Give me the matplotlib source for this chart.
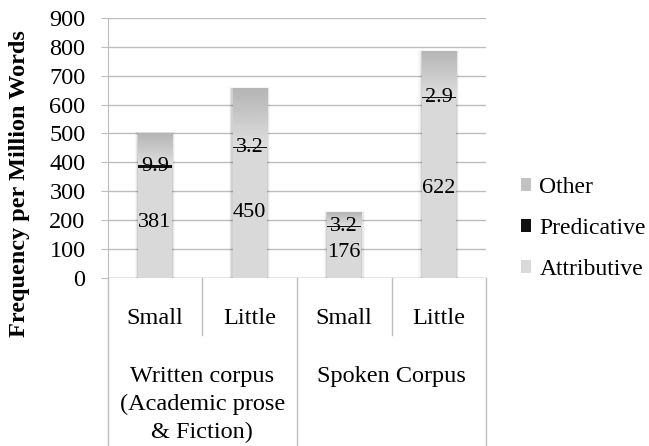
import numpy as np
import matplotlib
matplotlib.use('Agg')
import matplotlib.pyplot as plt
from matplotlib.patches import Patch

plt.rcParams['font.family'] = ['Liberation Serif', 'DejaVu Serif']
plt.rcParams['font.size'] = 17.5
plt.rcParams['ytick.labelsize'] = 17.5

# Frequencies per million words
words = ['Small', 'Little', 'Small', 'Little']
groups = ['Written corpus\n(Academic prose\n& Fiction)', 'Spoken Corpus']
attributive = [381, 450, 176, 622]
predicative = [9.9, 3.2, 3.2, 2.9]
other = [109, 201, 46, 157]

x = np.arange(len(words)) + 0.5
width = 0.36
grid_col = '#bdbdbd'

fig = plt.figure(figsize=(6.49, 4.46), dpi=100)
ax = fig.add_axes([0.166, 0.377, 0.583, 0.583])

attr = np.array(attributive)
pred = np.array(predicative)
oth = np.array(other)

ax.bar(x, attr, width, color='#d9d9d9', zorder=3, label='Attributive')
ax.bar(x, pred, width, bottom=attr, color='#111111', zorder=3, label='Predicative')
top_bars = ax.bar(x, oth, width, bottom=attr + pred, color='none', zorder=3, label='Other')

# vertical gradient for the "Other" segments, dark at the top
grad = np.linspace(0.87, 0.71, 64).reshape(-1, 1)
for p in top_bars:
    x0, y0 = p.get_x(), p.get_y()
    ax.imshow(grad, cmap='gray', vmin=0, vmax=1, origin='lower', aspect='auto',
              extent=(x0, x0 + p.get_width(), y0, y0 + p.get_height()), zorder=3)

# soft shadow round each bar
for xi, tot in zip(x, attr + pred + oth):
    for k, a in enumerate([0.10, 0.06, 0.03]):
        pad = 0.012 * (k + 1)
        ax.bar(xi, tot + 4 * (k + 1), width + 2 * pad, bottom=-2 * (k + 1),
               color='#000000', alpha=a, zorder=2, linewidth=0)

# value labels
for xi, a, pr in zip(x, attr, pred):
    ax.text(xi, a / 2, f'{a:g}', ha='center', va='center', fontsize=16, zorder=5)
    ax.text(xi, a + pr / 2, f'{pr:g}', ha='center', va='center', fontsize=16, zorder=5)

ax.set_xlim(0, 4)
ax.set_ylim(0, 900)
ax.set_yticks(range(0, 901, 100))
ax.set_yticklabels([str(v) for v in range(0, 901, 100)], fontsize=17.5)
ax.yaxis.grid(True, color=grid_col, linewidth=1, zorder=0)
ax.set_axisbelow(True)
ax.tick_params(axis='y', direction='out', length=5, color=grid_col, pad=11)
ax.tick_params(axis='x', length=0, labelbottom=False)
for s in ['top', 'right', 'bottom']:
    ax.spines[s].set_visible(False)
ax.spines['left'].set_color(grid_col)
ax.axhline(0, color=grid_col, linewidth=1, zorder=1)
fig.text(20 / 649, 1 - 184 / 446, 'Frequency per Million Words', rotation=90,
         ha='center', va='center', fontsize=17.5, fontweight='bold')

# two-level category axis
tr = ax.get_xaxis_transform()
for xd in [1, 3]:
    ax.plot([xd, xd], [0, -0.22], color=grid_col, lw=1, transform=tr, clip_on=False)
for xd in [0, 2, 4]:
    ax.plot([xd, xd], [0, -0.65], color=grid_col, lw=1, transform=tr, clip_on=False)
for xi, w in zip(x, words):
    ax.text(xi, -0.155, w, ha='center', va='center', fontsize=17.5, transform=tr)
ax.text(1, -0.34, groups[0], ha='center', va='top', fontsize=17.5, transform=tr,
        linespacing=1.4)
ax.text(3, -0.338, groups[1], ha='center', va='top', fontsize=17.5, transform=tr)

handles = [Patch(facecolor='#c2c2c2'), Patch(facecolor='#111111'), Patch(facecolor='#d9d9d9')]
ax.legend(handles, ['Other', 'Predicative', 'Attributive'], loc='center left',
          bbox_to_anchor=(1.066, 0.19), frameon=False, fontsize=17,
          handlelength=0.45, handleheight=0.45, handletextpad=0.35, labelspacing=0.85,
          borderaxespad=0)

fig.savefig('out.png', dpi=100)
